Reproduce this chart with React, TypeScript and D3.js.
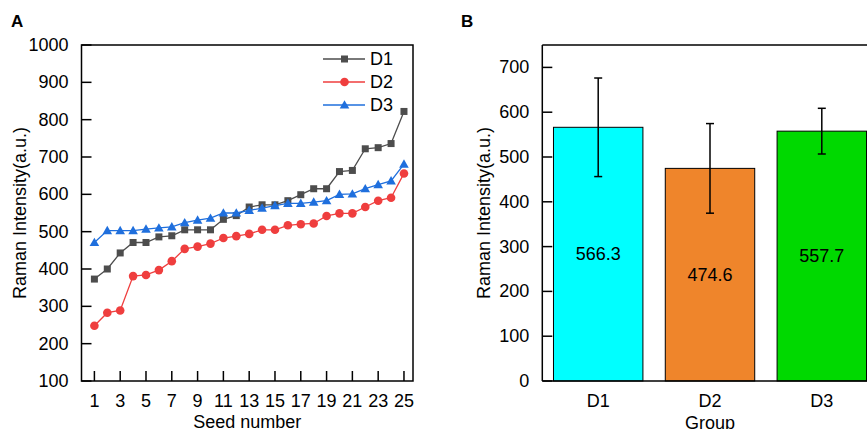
import React from "react";
import * as d3 from "d3";

const seeds = d3.range(1, 26);
const d1 = [373, 400, 443, 471, 471, 486, 489, 505, 505, 505, 533, 543, 566, 572, 572, 583, 599, 615, 615, 661, 664, 722, 725, 736, 822];
const d2 = [248, 283, 289, 381, 384, 397, 421, 454, 460, 468, 483, 488, 494, 505, 505, 517, 520, 522, 542, 549, 549, 566, 583, 591, 656];
const d3v = [471, 503, 503, 503, 507, 510, 513, 524, 531, 536, 550, 550, 557, 563, 570, 576, 576, 579, 583, 600, 601, 615, 626, 636, 681];
const seriesNames = ["D1", "D2", "D3"];
const lineColors = ["#4d4d4d", "#ef3e3e", "#1f6fdd"];

const groups = ["D1", "D2", "D3"];
const means = [566.3, 474.6, 557.7];
const errs = [110, 100, 51];
const barColors = ["#00ffff", "#ef852b", "#00d900"];

const yTicksA = d3.range(100, 1001, 100);
const xTicksA = d3.range(1, 26, 2);
const yTicksB = d3.range(0, 701, 100);

const FONT = "'Liberation Sans', Arial, sans-serif";
const FS = 18;

export default function App() {
  const W = 867, H = 429;
  // Panel A
  const aL = 81.5, aR = 413, aT = 45, aB = 381;
  const xA = d3.scaleLinear().domain([0, 25.7]).range([aL, aR]);
  const yA = d3.scaleLinear().domain([100, 1000]).range([aB, aT]);
  const lineGen = d3.line<number>().x((_, i) => xA(seeds[i])).y((v) => yA(v));
  const allSeries = [d1, d2, d3v];

  // Panel B
  const bL = 542.3, bT = 45, bB = 381;
  const xB = d3.scaleBand<string>().domain(groups).range([bL, bL + 335.4]).paddingInner(0.2).paddingOuter(0.1);
  const yB = d3.scaleLinear().domain([0, 750]).range([bB, bT]);

  const marker = (k: number, x: number, y: number, key: string, c: string) => {
    if (k === 0) return <rect key={key} x={x - 3.5} y={y - 3.5} width={7} height={7} fill={c} />;
    if (k === 1) return <circle key={key} cx={x} cy={y} r={4.3} fill={c} />;
    const s = 4.8;
    return <path key={key} d={`M${x},${y - s}L${x + s},${y + s * 0.75}L${x - s},${y + s * 0.75}Z`} fill={c} />;
  };

  return (
    <svg width={W} height={H} style={{ position: "absolute", left: 0, top: 0, background: "#fff" }} fontFamily={FONT}>
      {/* Panel A */}
      <text x={11} y={27} fontSize={17} fontWeight="bold">A</text>
      <rect x={aL} y={aT} width={aR - aL} height={aB - aT} fill="none" stroke="#000" strokeWidth={1.5} />
      {yTicksA.map((t) => (
        <g key={"ya" + t}>
          <line x1={aL} x2={aL + 10} y1={yA(t)} y2={yA(t)} stroke="#000" strokeWidth={1.5} />
          <text x={aL - 13} y={yA(t)} fontSize={FS} textAnchor="end" dominantBaseline="central">{t}</text>
        </g>
      ))}
      {xTicksA.map((t) => (
        <g key={"xa" + t}>
          <line x1={xA(t)} x2={xA(t)} y1={aB} y2={aB - 10} stroke="#000" strokeWidth={1.5} />
          <text x={xA(t)} y={407} fontSize={FS} textAnchor="middle">{t}</text>
        </g>
      ))}
      <text x={(aL + aR) / 2} y={428} fontSize={FS} textAnchor="middle">Seed number</text>
      <text transform={`translate(26,${(aT + aB) / 2}) rotate(-90)`} fontSize={FS} textAnchor="middle">Raman Intensity(a.u.)</text>
      {allSeries.map((s, k) => (
        <g key={"s" + k}>
          <path d={lineGen(s) || ""} fill="none" stroke={lineColors[k]} strokeWidth={1.3} />
          {s.map((v, i) => marker(k, xA(seeds[i]), yA(v), `m${k}-${i}`, lineColors[k]))}
        </g>
      ))}
      {seriesNames.map((n, k) => {
        const ly = 59 + k * 23;
        return (
          <g key={"lg" + n}>
            <line x1={323} x2={365} y1={ly} y2={ly} stroke={lineColors[k]} strokeWidth={1.3} />
            {marker(k, 344.5, ly, "lm" + k, lineColors[k])}
            <text x={370} y={ly} fontSize={FS} dominantBaseline="central">{n}</text>
          </g>
        );
      })}

      {/* Panel B */}
      <text x={461} y={27} fontSize={17} fontWeight="bold">B</text>
      {groups.map((g, i) => {
        const x = xB(g)!;
        const bw = xB.bandwidth();
        const cx = x + bw / 2;
        return (
          <g key={"bar" + g}>
            <rect x={x} y={yB(means[i])} width={bw} height={bB - yB(means[i])} fill={barColors[i]} stroke="#000" strokeWidth={1} />
            <line x1={cx} x2={cx} y1={yB(means[i] + errs[i])} y2={yB(means[i] - errs[i])} stroke="#000" strokeWidth={1.5} />
            <line x1={cx - 4} x2={cx + 4} y1={yB(means[i] + errs[i])} y2={yB(means[i] + errs[i])} stroke="#000" strokeWidth={1.5} />
            <line x1={cx - 4} x2={cx + 4} y1={yB(means[i] - errs[i])} y2={yB(means[i] - errs[i])} stroke="#000" strokeWidth={1.5} />
            <text x={cx} y={yB(means[i] / 2)} fontSize={FS} textAnchor="middle" dominantBaseline="central">{means[i].toFixed(1)}</text>
            <text x={cx} y={407} fontSize={FS} textAnchor="middle">{g}</text>
          </g>
        );
      })}
      <line x1={bL} x2={W + 20} y1={bT} y2={bT} stroke="#000" strokeWidth={1.5} />
      <line x1={bL} x2={bL} y1={bT} y2={bB} stroke="#000" strokeWidth={1.5} />
      <line x1={bL} x2={W + 20} y1={bB} y2={bB} stroke="#000" strokeWidth={1.5} />
      {yTicksB.map((t) => (
        <g key={"yb" + t}>
          <line x1={bL} x2={bL + 10} y1={yB(t)} y2={yB(t)} stroke="#000" strokeWidth={1.5} />
          <text x={bL - 13} y={yB(t)} fontSize={FS} textAnchor="end" dominantBaseline="central">{t}</text>
        </g>
      ))}
      <text x={xB("D2")! + xB.bandwidth() / 2} y={429} fontSize={FS} textAnchor="middle">Group</text>
      <text transform={`translate(490,${(bT + bB) / 2}) rotate(-90)`} fontSize={FS} textAnchor="middle">Raman Intensity(a.u.)</text>
    </svg>
  );
}
